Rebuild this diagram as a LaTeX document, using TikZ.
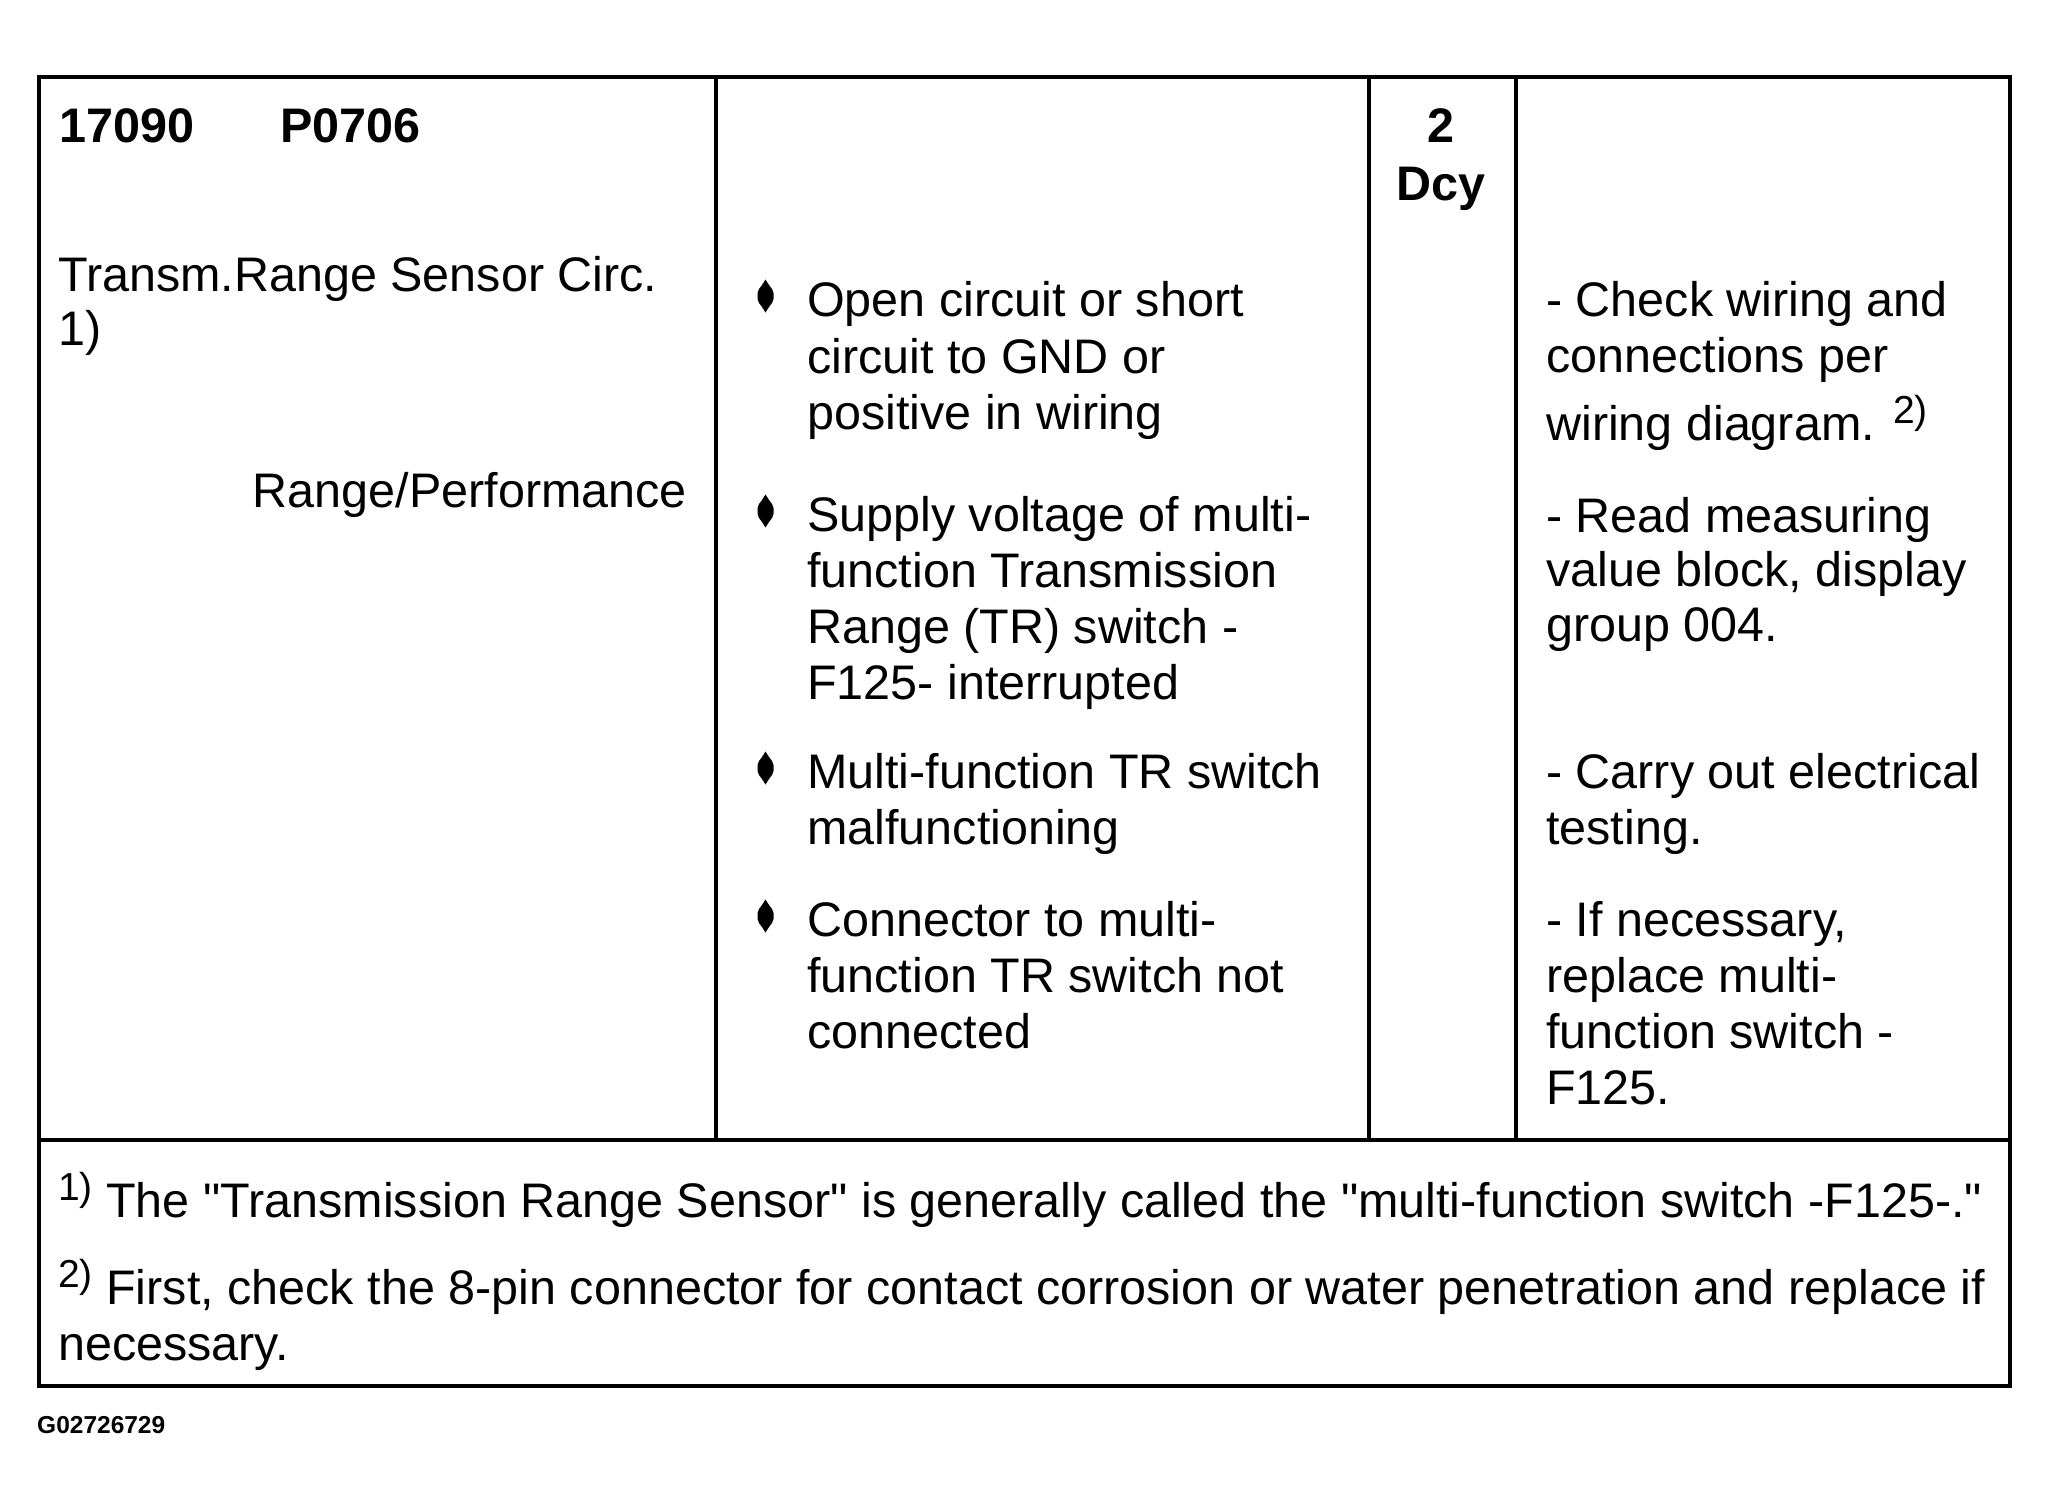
\documentclass[tikz,border=0pt]{standalone}
\usepackage{fontspec}
\setmainfont{Liberation Sans}
\newcommand\supsc[1]{\raisebox{17pt}{\fontsize{39pt}{39pt}\selectfont #1}}
\newcommand\sq{\XeTeXglyph\XeTeXcharglyph"22\relax}
\tikzset{
  txt/.style={anchor=base west, inner sep=0pt, font=\fontsize{48.5pt}{56pt}\selectfont},
  btxt/.style={txt, font=\fontsize{48.5pt}{56pt}\selectfont\bfseries},
  rulestyle/.style={line width=3.5pt, line cap=rect},
  bulshape/.pic={\fill[black] (0,-16.5) -- (3.5,-11) -- (6.5,-7) -- (8,-3) -- (8,3) -- (6.5,7) -- (3.5,11) -- (0,16.5) -- (-3.5,11) -- (-6.5,7) -- (-8,3) -- (-8,-3) -- (-6.5,-7) -- (-3.5,-11) -- cycle;},
}
\begin{document}
\begin{tikzpicture}[x=1pt,y=-1pt]
\useasboundingbox[fill=white] (0,0) rectangle (2050,1508);
% frame
\coordinate (tl) at (39,77);
\coordinate (br) at (2010,1386);
\coordinate (ml) at (39,1140);
\coordinate (mr) at (2010,1140);
\coordinate (c1t) at (716,77);
\coordinate (c1b) at (716,1140);
\coordinate (c2t) at (1369,77);
\coordinate (c2b) at (1369,1140);
\coordinate (c3t) at (1516,77);
\coordinate (c3b) at (1516,1140);
\draw[rulestyle] (tl) rectangle (br);
\draw[rulestyle] (ml) -- (mr);
\draw[rulestyle] (c1t) -- (c1b);
\draw[rulestyle] (c2t) -- (c2b);
\draw[rulestyle] (c3t) -- (c3b);
% column 1
\node[btxt] (code1) at (59,142) {17090};
\node[btxt] (code2) at (280,142) {P0706};
\node[txt] (name1) at (58,291) {Transm.Range Sensor Circ.};
\node[txt] (name2) at (58,345) {1)};
\node[txt, anchor=base east] (name3) at (687,507) {Range/Performance};
% column 2 bullets
\coordinate (b1) at (765.5,296);
\coordinate (b2) at (765.5,511);
\coordinate (b3) at (765.5,768);
\coordinate (b4) at (765.5,916);
\pic at (b1) {bulshape};
\pic at (b2) {bulshape};
\pic at (b3) {bulshape};
\pic at (b4) {bulshape};
\node[txt] (a1) at (807,316) {Open circuit or short};
\node[txt] (a2) at (807,373) {circuit to GND or};
\node[txt] (a3) at (807,429) {positive in wiring};
\node[txt] (a4) at (807,531) {Supply voltage of multi-};
\node[txt] (a5) at (807,587) {function Transmission};
\node[txt] (a6) at (807,643) {Range (TR) switch -};
\node[txt] (a7) at (807,699) {F125- interrupted};
\node[txt] (a8) at (807,788) {Multi-function TR switch};
\node[txt] (a9) at (807,844) {malfunctioning};
\node[txt] (a10) at (807,936) {Connector to multi-};
\node[txt] (a11) at (807,992) {function TR switch not};
\node[txt] (a12) at (807,1048) {connected};
% column 3
\node[btxt, anchor=base] (dc1) at (1441,142) {2};
\node[btxt, anchor=base] (dc2) at (1441,200) {Dcy};
% column 4
\node[txt] (r1) at (1546,316) {- Check wiring and};
\node[txt] (r2) at (1546,372) {connections per};
\node[txt] (r3) at (1546,440) {wiring diagram. \supsc{2)}};
\node[txt] (r4) at (1546,532) {- Read measuring};
\node[txt] (r5) at (1546,586) {value block, display};
\node[txt] (r6) at (1546,641) {group 004.};
\node[txt] (r7) at (1546,788) {- Carry out electrical};
\node[txt] (r8) at (1546,844) {testing.};
\node[txt] (r9) at (1546,936) {- If necessary,};
\node[txt] (r10) at (1546,992) {replace multi-};
\node[txt] (r11) at (1546,1048) {function switch -};
\node[txt] (r12) at (1546,1104) {F125.};
% footnotes
\node[txt] (f1) at (58,1217) {\supsc{1)} The \sq Transmission Range Sensor\sq{} is generally called the \sq multi-function switch -F125-.\sq};
\node[txt] (f2) at (58,1304) {\supsc{2)} First, check the 8-pin connector for contact corrosion or water penetration and replace if};
\node[txt] (f3) at (58,1360) {necessary.};
% figure id
\node[anchor=base west, inner sep=0pt, font=\fontsize{24.5pt}{28pt}\selectfont\bfseries] (gid) at (37,1433) {G02726729};
\end{tikzpicture}
\end{document}
